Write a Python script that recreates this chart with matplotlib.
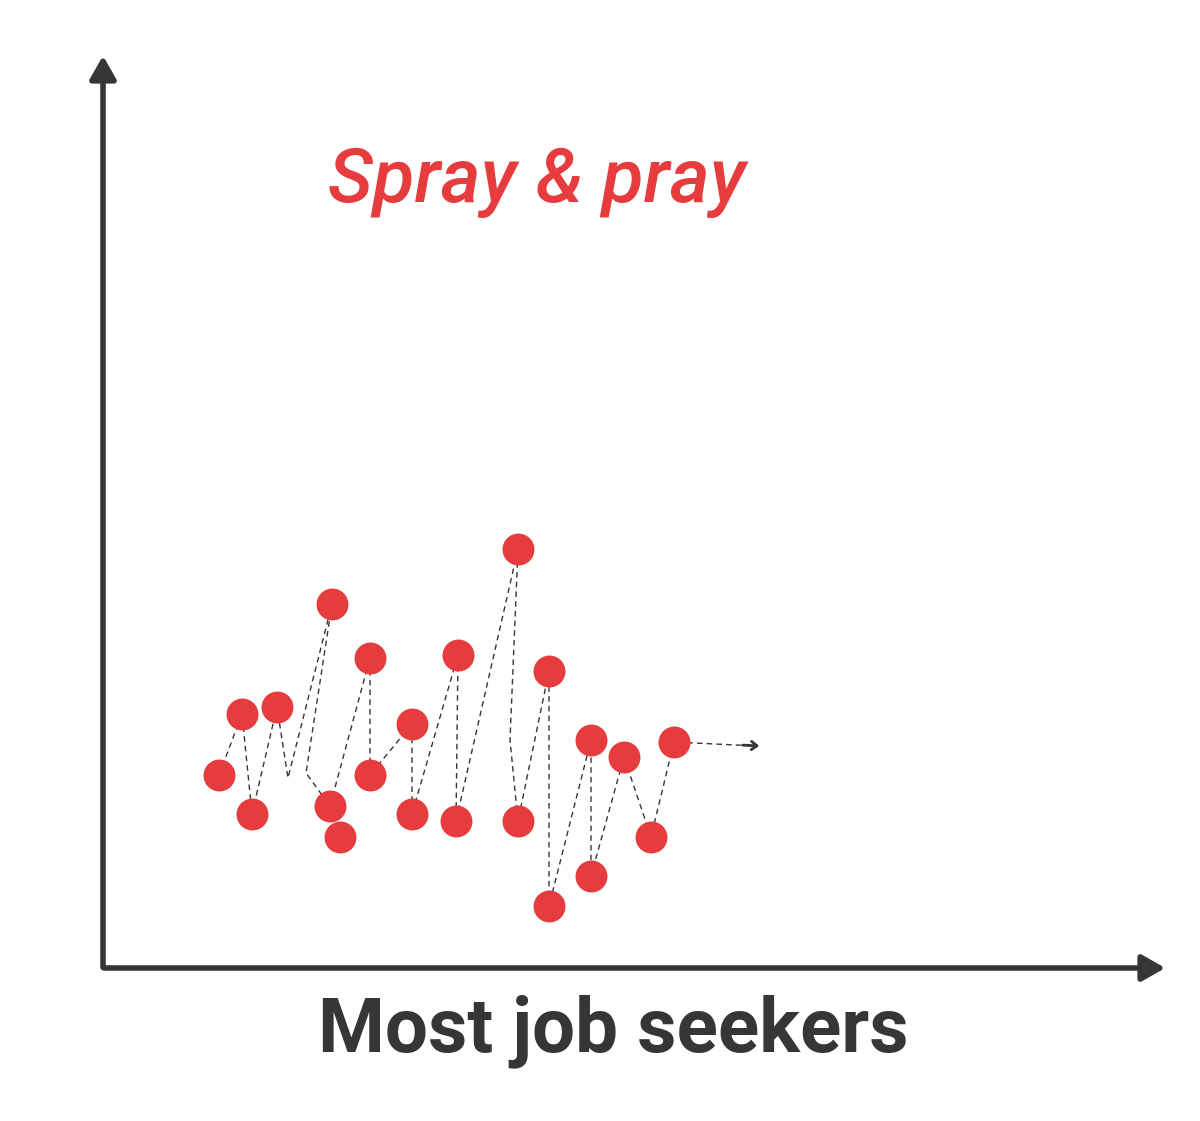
import matplotlib.pyplot as plt

# dashed path vertices (pixel coords)
path_x = [219, 242, 252, 277, 288, 332, 306, 330, 370, 370, 412, 412, 458, 456,
          518, 510, 518, 549, 549, 591, 591, 624, 651, 674, 756]
path_y = [775, 714, 814, 707, 778, 604, 773, 806, 658, 775, 724, 814, 655, 821,
          549, 740, 821, 671, 906, 740, 876, 757, 837, 742, 746]

# dots
dot_x = [219, 242, 252, 277, 332, 330, 340, 370, 370, 412, 412, 458, 456,
         518, 518, 549, 549, 591, 591, 624, 651, 674]
dot_y = [775, 714, 814, 707, 604, 806, 837, 658, 775, 724, 814, 655, 821,
         549, 821, 671, 906, 740, 876, 757, 837, 742]

red = '#e63c3e'
dark = '#363636'

fig = plt.figure(figsize=(12, 11.21), dpi=100)
ax = fig.add_axes([0, 0, 1, 1])
ax.set_xlim(0, 1200)
ax.set_ylim(1121, 0)
ax.axis('off')

# axes with arrow heads
ax.annotate('', xy=(103, 53), xytext=(103, 970),
            arrowprops=dict(arrowstyle='-|>,head_length=1.4,head_width=0.8', color=dark, lw=4))
ax.annotate('', xy=(1168, 968), xytext=(101, 968),
            arrowprops=dict(arrowstyle='-|>,head_length=1.4,head_width=0.8', color=dark, lw=4))

ax.plot(path_x, path_y, '--', color=dark, lw=1, dashes=(4, 3), zorder=2)
ax.annotate('', xy=(762, 746), xytext=(740, 745),
            arrowprops=dict(arrowstyle='->,head_length=0.4,head_width=0.3', color=dark, lw=2))
ax.plot(dot_x, dot_y, 'o', color=red, markersize=23, markeredgewidth=0, zorder=3)

ax.text(537, 182, 'Spray & pray', color=red, fontsize=55, fontstyle='italic',
        fontweight='medium', family='Roboto', ha='center', va='center')
ax.text(613, 1031, 'Most job seekers', color=dark, fontsize=55, fontweight='bold',
        family='Roboto', ha='center', va='center')

fig.savefig('out.png', dpi=100)
